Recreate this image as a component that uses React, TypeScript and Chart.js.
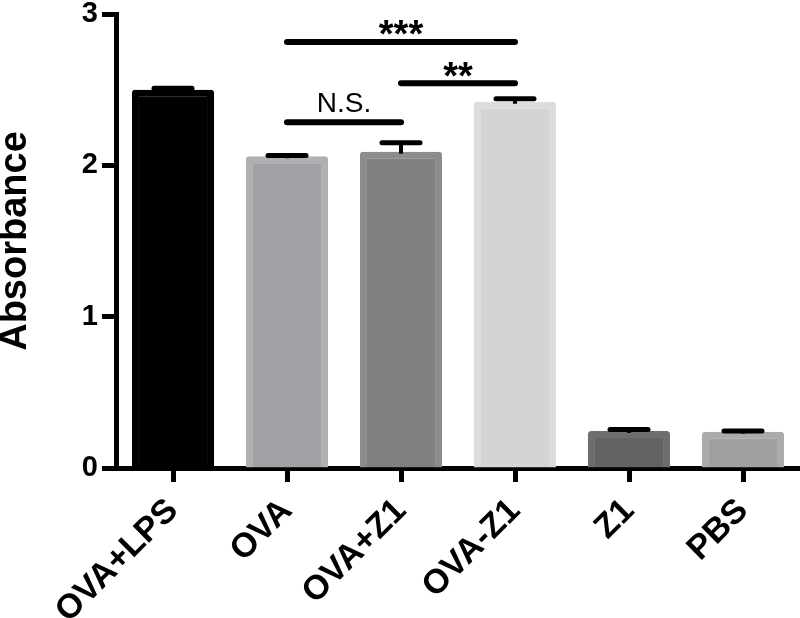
import React, { useEffect, useRef } from "react";
import { Chart, registerables } from "chart.js";

Chart.register(...registerables);

const categories = ["OVA+LPS", "OVA", "OVA+Z1", "OVA-Z1", "Z1", "PBS"];
const values = [2.5, 2.06, 2.09, 2.42, 0.245, 0.24];
const errors = [0.01, 0.005, 0.06, 0.02, 0.01, 0.005];
const fillColors = ["#000000", "#a2a1a5", "#808080", "#d4d4d4", "#636363", "#a0a0a3"];
const edgeColors = ["#000000", "#b0b0b2", "#8c8c8c", "#dcdcdc", "#6e6e6e", "#ababae"];
const yTicks = [0, 1, 2, 3];
const sigFrom = [1, 1, 2];
const sigTo = [2, 3, 3];
const sigY = [2.285, 2.815, 2.543];
const sigLabels = ["N.S.", "***", "**"];

const FONT = "'Liberation Sans', Arial, sans-serif";

const errorBarPlugin = {
  id: "errorBars",
  afterDatasetsDraw(chart: any) {
    const ctx = chart.ctx;
    const meta = chart.getDatasetMeta(0);
    const yScale = chart.scales.y;
    ctx.save();
    ctx.strokeStyle = "#000";
    meta.data.forEach((bar: any, i: number) => {
      const x = bar.x;
      const y0 = yScale.getPixelForValue(values[i]);
      const y1 = yScale.getPixelForValue(values[i] + errors[i]);
      ctx.lineWidth = 4;
      ctx.lineCap = "butt";
      ctx.beginPath();
      ctx.moveTo(x, y0 + 2);
      ctx.lineTo(x, y1);
      ctx.stroke();
      ctx.lineWidth = 5;
      ctx.lineCap = "round";
      ctx.beginPath();
      ctx.moveTo(x - 19, y1);
      ctx.lineTo(x + 19, y1);
      ctx.stroke();
    });
    ctx.restore();
  },
};

const sigPlugin = {
  id: "significance",
  afterDatasetsDraw(chart: any) {
    const ctx = chart.ctx;
    const xs = chart.scales.x;
    const ys = chart.scales.y;
    ctx.save();
    ctx.strokeStyle = "#000";
    ctx.fillStyle = "#000";
    ctx.lineWidth = 6;
    ctx.lineCap = "round";
    sigLabels.forEach((label, i) => {
      const x0 = xs.getPixelForValue(sigFrom[i]);
      const x1 = xs.getPixelForValue(sigTo[i]);
      const y = ys.getPixelForValue(sigY[i]);
      ctx.beginPath();
      ctx.moveTo(x0, y);
      ctx.lineTo(x1, y);
      ctx.stroke();
      ctx.textAlign = "center";
      ctx.textBaseline = "alphabetic";
      const isNS = label === "N.S.";
      ctx.font = isNS ? `28px ${FONT}` : `bold 38px ${FONT}`;
      const m = ctx.measureText(label);
      const bottom = isNS ? y - 10 : y - 6.5;
      ctx.fillText(label, (x0 + x1) / 2, bottom - m.actualBoundingBoxDescent);
    });
    ctx.restore();
  },
};

export default function App() {
  const ref = useRef<HTMLCanvasElement | null>(null);
  useEffect(() => {
    if (!ref.current) return;
    const chart = new Chart(ref.current, {
      type: "bar",
      data: {
        labels: categories,
        datasets: [
          {
            data: values,
            backgroundColor: fillColors,
            borderColor: edgeColors,
            borderWidth: 7,
            borderRadius: 3,
            borderSkipped: "start",
            categoryPercentage: 1,
            barPercentage: 0.72,
          },
        ],
      },
      options: {
        responsive: false,
        animation: false,
        devicePixelRatio: 1,
        layout: { padding: { top: 14, right: 0, left: 0, bottom: 0 } },
        plugins: { legend: { display: false }, tooltip: { enabled: false } },
        scales: {
          x: {
            afterFit: (s: any) => {
              s.height = 150;
            },
            grid: {
              offset: false,
              drawOnChartArea: false,
              drawTicks: true,
              tickLength: 14,
              tickWidth: 5,
              color: "#000",
            },
            border: { display: true, width: 5, color: "#000" },
            ticks: {
              autoSkip: false,
              minRotation: 45,
              maxRotation: 45,
              padding: 9,
              color: "#000",
              font: { family: FONT, size: 34, weight: "bold" },
            },
          },
          y: {
            min: 0,
            max: 3,
            afterFit: (s: any) => {
              s.width = 116;
              s.paddingTop = 0;
              s.paddingBottom = 0;
            },
            afterBuildTicks: (s: any) => {
              s.ticks = yTicks.map((v) => ({ value: v }));
            },
            grid: {
              drawOnChartArea: false,
              drawTicks: true,
              tickLength: 14,
              tickWidth: 5,
              color: "#000",
            },
            border: { display: true, width: 5, color: "#000" },
            ticks: {
              padding: 4,
              color: "#000",
              font: { family: FONT, size: 29, weight: "bold" },
            },
            title: {
              display: true,
              text: "Absorbance",
              color: "#000",
              padding: { top: 0, bottom: 0 },
              font: { family: FONT, size: 38, weight: "bold", lineHeight: 0.8 },
            },
          },
        },
      },
      plugins: [errorBarPlugin, sigPlugin],
    });
    return () => chart.destroy();
  }, []);
  return (
    <div style={{ position: "fixed", left: 0, top: 0, width: 800, height: 618, background: "#fff" }}>
      <canvas ref={ref} width={800} height={618} />
    </div>
  );
}
